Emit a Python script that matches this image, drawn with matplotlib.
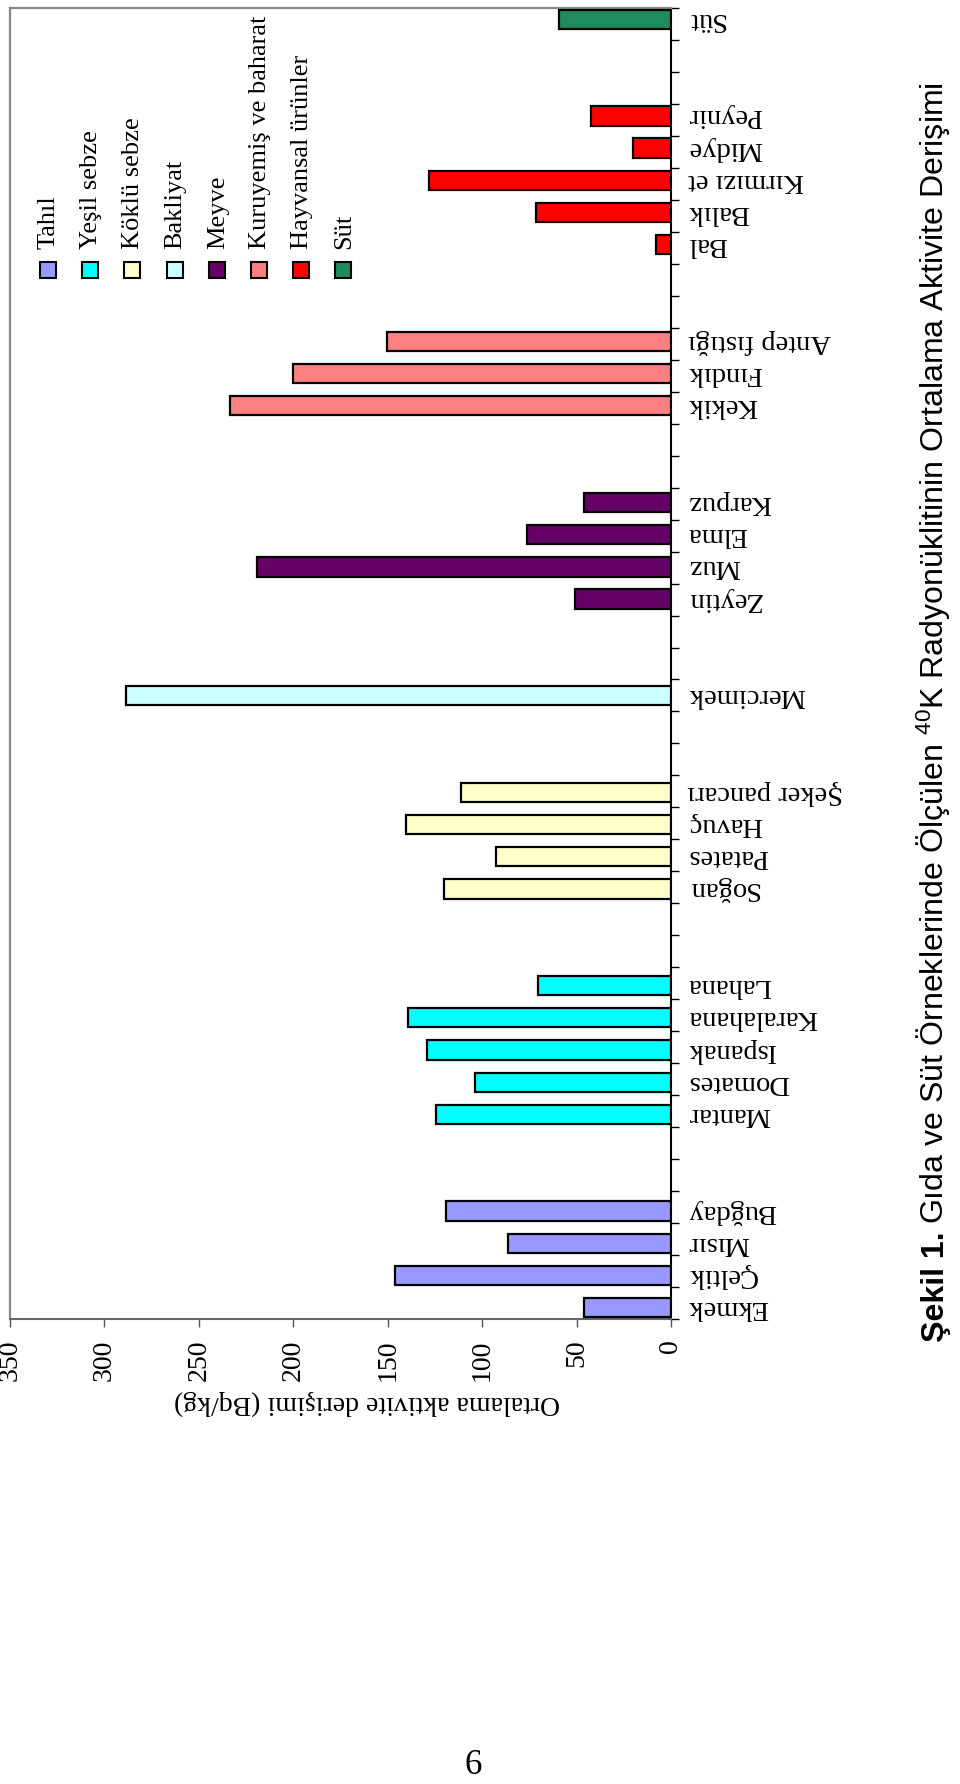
import matplotlib
matplotlib.use("Agg")
import matplotlib.pyplot as plt
from matplotlib.patches import Rectangle
from matplotlib.ticker import FixedLocator
from matplotlib import font_manager
import numpy as np

W, H, DPI = 960, 1784, 100
SERIF = ["Liberation Serif", "DejaVu Serif"]
_names = {f.name for f in font_manager.fontManager.ttflist}
if "Liberation Sans Narrow" in _names:
    SANS_CAP = ["Liberation Sans Narrow", "Liberation Sans", "DejaVu Sans"]
else:
    SANS_CAP = ["Liberation Sans", "DejaVu Sans"]

# ---------------- data ----------------
group_names = ["Tahıl", "Yeşil sebze", "Köklü sebze", "Bakliyat", "Meyve",
               "Kuruyemiş ve baharat", "Hayvansal ürünler", "Süt"]
group_colors = ["#9999FF", "#00FFFF", "#FFFFCC", "#CCFFFF", "#660066",
                "#FF8080", "#FF0000", "#1E8C5C"]

tahil_items = ["Ekmek", "Çeltik", "Mısır", "Buğday"]
tahil_vals = [46, 146, 86.5, 119]
yesil_items = ["Mantar", "Domates", "Ispanak", "Karalahana", "Lahana"]
yesil_vals = [124.6, 104, 129, 139, 70.5]
koklu_items = ["Soğan", "Patates", "Havuç", "Şeker pancarı"]
koklu_vals = [120, 92.5, 140.5, 111]
bakliyat_items = ["Mercimek"]
bakliyat_vals = [288.5]
meyve_items = ["Zeytin", "Muz", "Elma", "Karpuz"]
meyve_vals = [51, 219, 76, 46]
kuru_items = ["Kekik", "Fındık", "Antep fıstığı"]
kuru_vals = [233.5, 200, 150.5]
hayvan_items = ["Bal", "Balık", "Kırmızı et", "Midye", "Peynir"]
hayvan_vals = [8, 71.5, 128, 20, 42.5]
sut_items = ["Süt"]
sut_vals = [59.5]

x_ticks = [0, 50, 100, 150, 200, 250, 300, 350]
x_label = "Ortalama aktivite derişimi (Bq/kg)"
caption_bold = "Şekil 1."
caption_rest = "Gıda ve Süt Örneklerinde Ölçülen $\\mathregular{^{40}}$K Radyonüklitinin Ortalama Aktivite Derişimi"
page_number = "6"

groups = [(tahil_items, tahil_vals), (yesil_items, yesil_vals),
          (koklu_items, koklu_vals), (bakliyat_items, bakliyat_vals),
          (meyve_items, meyve_vals), (kuru_items, kuru_vals),
          (hayvan_items, hayvan_vals), (sut_items, sut_vals)]
GAP = 2

# ---------------- figure ----------------
fig = plt.figure(figsize=(W / DPI, H / DPI), dpi=DPI)
fig.patch.set_facecolor("white")


def fx(px):
    return px / W


def fy(py):
    return 1 - py / H


ax = fig.add_axes([fx(10), fy(1319), 661 / W, 1311 / H])

pos = 0
tick_pos, tick_lab = [], []
for gi, (items, vals) in enumerate(groups):
    ys = np.arange(len(items)) + pos
    ax.barh(ys, vals, height=0.6, color=group_colors[gi],
            edgecolor="black", linewidth=1.6, zorder=3)
    tick_pos.extend(ys)
    tick_lab.extend(items)
    pos += len(items) + GAP
n_slots = pos - GAP

ax.set_xlim(max(x_ticks), 0)
ylo, yhi = -0.35, n_slots - 1 + 0.35
ax.set_ylim(ylo, yhi)

# value axis
ax.set_xticks(x_ticks, labels=[str(v) for v in x_ticks], rotation=90,
              fontsize=20, family=SERIF)
ax.tick_params(axis="x", direction="out", length=5.8, width=1.0,
               color="#555555", pad=9)

# category axis
ax.yaxis.tick_right()
ax.set_yticks(tick_pos, labels=tick_lab, rotation=180, va="center",
              fontsize=20.5, family=SERIF)
ax.yaxis.set_minor_locator(FixedLocator(np.linspace(ylo, yhi, n_slots + 1)))
ax.tick_params(axis="y", which="major", length=0, pad=12)
ax.tick_params(axis="y", which="minor", right=True, left=False,
               direction="out", length=5.8, width=1.0, color="black")

ax.set_xlabel(x_label, rotation=180, fontsize=20, family=SERIF)
ax.xaxis.set_label_coords(0.54, -0.054)

for side in ["left", "top"]:
    ax.spines[side].set_color("#888888")
    ax.spines[side].set_linewidth(1.6)
ax.spines["right"].set_color("black")
ax.spines["right"].set_linewidth(1.5)
ax.spines["bottom"].set_color("#666666")
ax.spines["bottom"].set_linewidth(1.5)

# legend (rotated, built from the group definitions)
for i, (name, col) in enumerate(zip(group_names, group_colors)):
    cx = 48 + 42.2 * i
    fig.add_artist(Rectangle((fx(cx - 8), fy(278)), 16 / W, 16 / H,
                             transform=fig.transFigure, facecolor=col,
                             edgecolor="black", linewidth=1.5))
    fig.text(fx(cx + 1), fy(249), name, rotation=90, rotation_mode="anchor",
             ha="left", va="center", fontsize=19, family=SERIF)

# caption, fitted to its span
fig.canvas.draw()
renderer = fig.canvas.get_renderer()
y_start, y_end, x_base = 1342, 85, 944


def place_caption(fs):
    t1 = fig.text(fx(x_base), fy(y_start), caption_bold, rotation=90,
                  rotation_mode="anchor", ha="left", va="baseline",
                  fontsize=fs, fontweight="bold", family=SANS_CAP)
    e1 = t1.get_window_extent(renderer)
    sp = fs * 0.3
    t2 = fig.text(fx(x_base), fy(y_start - e1.height - sp), caption_rest,
                  rotation=90, rotation_mode="anchor", ha="left",
                  va="baseline", fontsize=fs, family=SANS_CAP)
    e2 = t2.get_window_extent(renderer)
    return t1, t2, e1.height + sp + e2.height


t1, t2, total = place_caption(20)
t1.remove()
t2.remove()
fs = 20 * (y_start - y_end) / total
place_caption(fs)

fig.text(fx(473), fy(1765), page_number, ha="center", va="center",
         fontsize=25, family=SERIF)

fig.savefig("out.png", dpi=DPI, facecolor="white")
